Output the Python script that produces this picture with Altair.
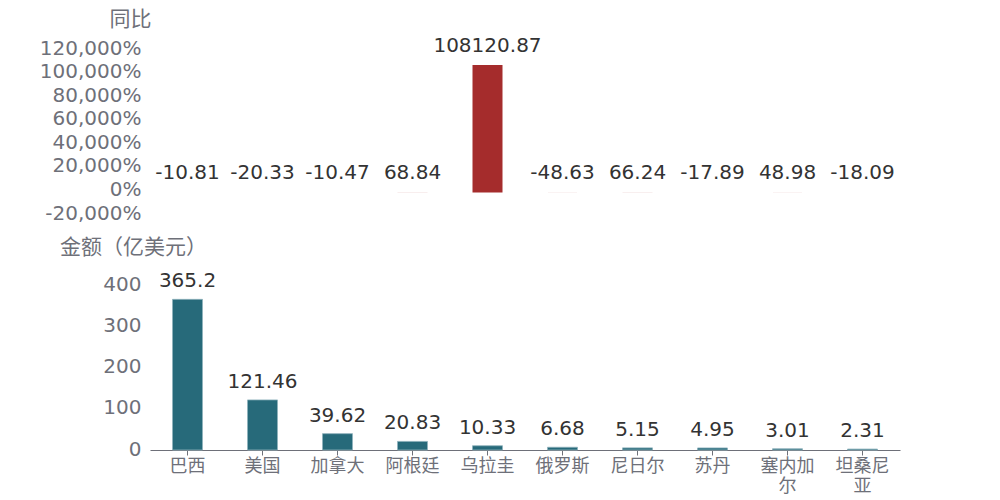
import altair as alt
import pandas as pd

countries = ["巴西", "美国", "加拿大", "阿根廷", "乌拉圭", "俄罗斯", "尼日尔", "苏丹", "塞内加尔", "坦桑尼亚"]
amounts = [365.2, 121.46, 39.62, 20.83, 10.33, 6.68, 5.15, 4.95, 3.01, 2.31]
yoy = [-10.81, -20.33, -10.47, 68.84, 108120.87, -48.63, 66.24, -17.89, 48.98, -18.09]
yoy_ticks = [-20000, 0, 20000, 40000, 60000, 80000, 100000, 120000]
amt_ticks = [0, 100, 200, 300, 400]

df = pd.DataFrame({"country": countries, "amount": amounts, "yoy": yoy})
df["yoy_label"] = [f"{v:.2f}" for v in yoy]
df["amt_label"] = [("%g" % v) for v in amounts]

FONT = "DejaVu Sans, Noto Sans CJK SC"
GRAY = "#6E7079"
TEXT = "#333333"
RED = "#A52C2C"
TEAL = "#276A7A"

xscale = alt.Scale(paddingInner=0.6, paddingOuter=0.3)

top_y = alt.Y(
    "yoy:Q",
    scale=alt.Scale(domain=[-20000, 120000], nice=False),
    axis=alt.Axis(
        values=yoy_ticks,
        labelExpr="(datum.value < 0 ? '-' : '') + format(abs(datum.value), ',') + '%'",
        grid=False, domain=False, ticks=False,
        labelFont=FONT, labelFontSize=20, labelColor=GRAY, labelPadding=9,
        labelOverlap=False, labelOffset=-3,
        title="同比", titleAngle=0, titleX=-20, titleY=-32,
        titleAlign="center", titleBaseline="middle",
        titleFont=FONT, titleFontSize=21, titleFontWeight="normal", titleColor=GRAY,
    ),
)

top_base = alt.Chart(df).encode(
    x=alt.X("country:N", sort=countries, scale=xscale, axis=None),
    y=top_y,
)
top_bar = top_base.mark_bar(color=RED)
top_text = top_base.mark_text(
    font=FONT, fontSize=20, color=TEXT, baseline="middle", dy=-19
).encode(text="yoy_label:N")

top = (top_bar + top_text).properties(width=750, height=165)

bot_y = alt.Y(
    "amount:Q",
    scale=alt.Scale(domain=[0, 400], nice=False),
    axis=alt.Axis(
        values=amt_ticks,
        grid=False, domain=False, ticks=False,
        labelFont=FONT, labelFontSize=20, labelColor=GRAY, labelPadding=9,
        labelOverlap=False, labelOffset=-1,
        title="金额（亿美元）", titleAngle=0, titleX=-17, titleY=-38,
        titleAlign="center", titleBaseline="middle",
        titleFont=FONT, titleFontSize=21, titleFontWeight="normal", titleColor=GRAY,
    ),
)

bot_base = alt.Chart(df).encode(
    x=alt.X(
        "country:N", sort=countries, scale=xscale,
        axis=alt.Axis(
            title=None, labelAngle=0, labelFont=FONT, labelFontSize=18,
            labelColor=GRAY, domainColor=GRAY, tickColor=GRAY, tickSize=5,
            labelPadding=2, labelLineHeight=20,
            labelExpr="length(datum.label) > 3 ? [substring(datum.label, 0, 3), substring(datum.label, 3)] : datum.label",
        ),
    ),
    y=bot_y,
)
bot_bar = bot_base.mark_bar(color=TEAL, stroke="#8fb3bd", strokeWidth=0.8)
bot_text = bot_base.mark_text(
    font=FONT, fontSize=20, color=TEXT, baseline="middle", dy=-18
).encode(text="amt_label:N")

bottom = (bot_bar + bot_text).properties(width=750, height=165)

chart = alt.vconcat(top, bottom, spacing=13).properties(
    padding={"left": 31, "top": 0, "right": 5, "bottom": 5}
).configure_view(stroke=None)

chart.save("out.html", embed_options={"renderer": "svg", "actions": False})
